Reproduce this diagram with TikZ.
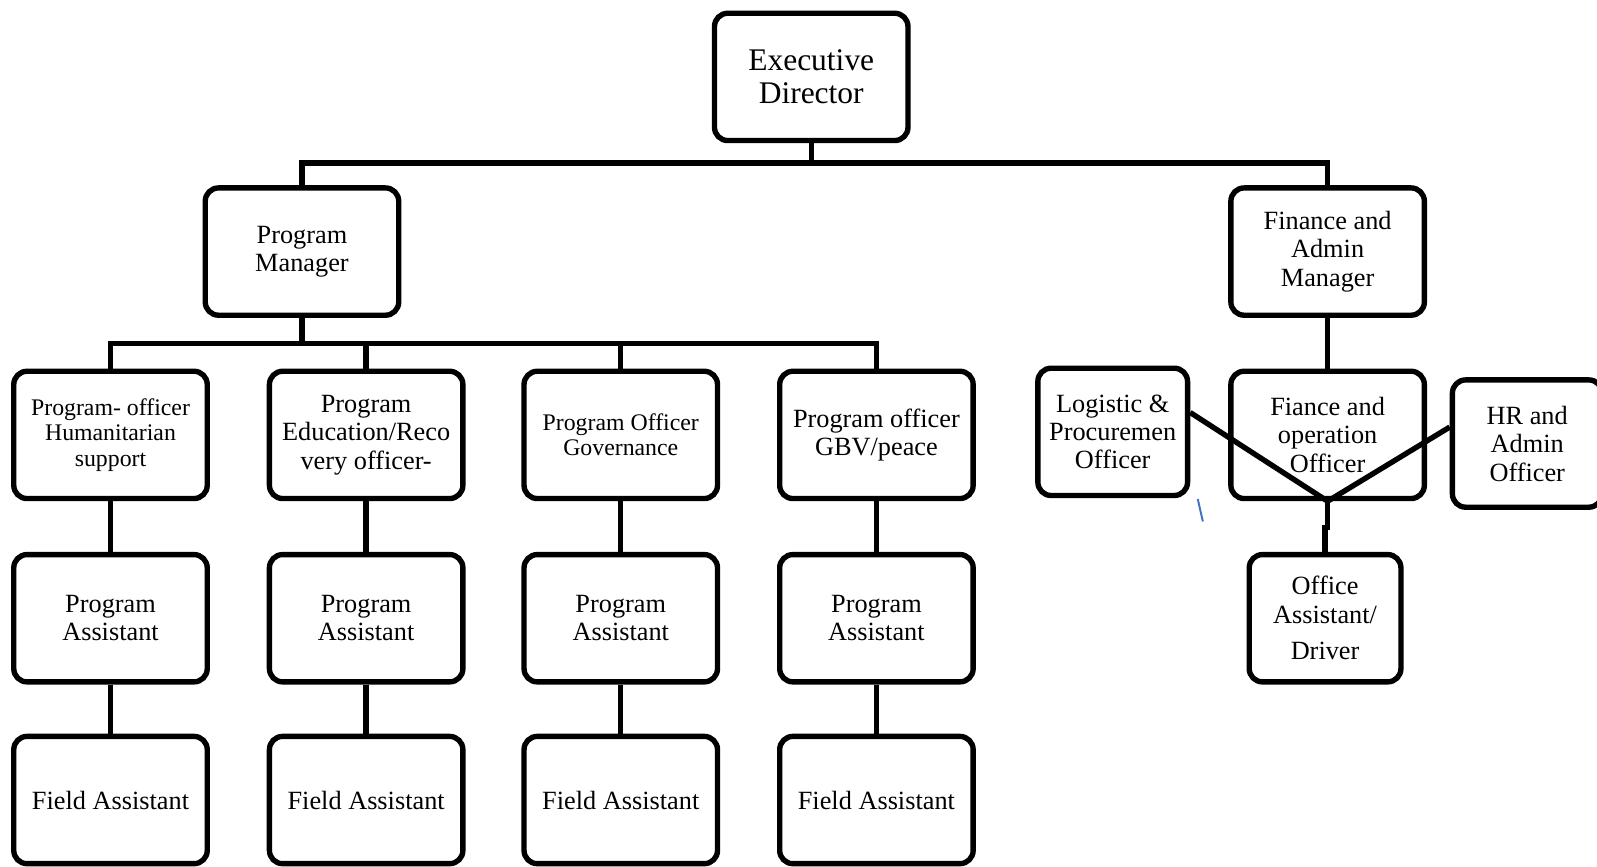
\documentclass[tikz,border=0pt]{standalone}
\usepackage{fontspec}
\setmainfont{Liberation Serif}
\definecolor{strayblue}{RGB}{68,114,196}

\begin{document}
\begin{tikzpicture}[x=0.02cm, y=-0.02cm,
    orgbox/.style={draw, line width=3pt, rounded corners=0.26cm, align=center,
        minimum width=3.8cm, minimum height=2.5cm, inner sep=0pt,
        font=\fontsize{14.7}{15.9}\selectfont},
    narrowbox/.style={orgbox, minimum width=2.94cm},
    smalltext/.style={font=\fontsize{13.3}{14.2}\selectfont},
    bigtext/.style={font=\fontsize{17.6}{18.2}\selectfont},
    link/.style={line width=3pt}]

    \useasboundingbox (0,0) rectangle (1568,851);

    % --------------------------
    % 顶层
    % --------------------------
    \node[orgbox, bigtext] (ed) at (796.5,75.5) {Executive\\Director};
    \node[orgbox] (pm) at (296.5,247) {Program\\Manager};
    \node[orgbox] (fam) at (1303.5,247) {Finance and\\Admin\\Manager};

    \coordinate (busA) at (796.5,160);
    \draw[link] (ed.south) -- (busA);
    \draw[link] (pm.north) |- (busA) -| (fam.north);

    % --------------------------
    % 项目部
    % --------------------------
    \node[orgbox, smalltext] (po1) at (108.5,427) {Program- officer\\Humanitarian\\support};
    \node[orgbox] (po2) at (359.5,427) {Program\\Education/Reco\\very officer-};
    \node[orgbox, smalltext] (po3) at (609.5,427) {Program Officer\\Governance};
    \node[orgbox] (po4) at (860.5,427) {Program officer\\GBV/peace};

    \coordinate (busB) at (296.5,337);
    \draw[link] (pm.south) -- (busB);
    \draw[link] (po1.north) |- (busB) -| (po4.north);
    \foreach \i in {2,3} {
        \draw[link] (po\i.north) -- (po\i.north |- busB);
    }

    % 助理与现场
    \foreach \i/\x in {1/108.5, 2/359.5, 3/609.5, 4/860.5} {
        \node[orgbox] (pa\i) at (\x,607) {Program\\Assistant};
        \node[orgbox] (fa\i) at (\x,785.5) {Field Assistant};
        \draw[link] (po\i.south) -- (pa\i.north);
        \draw[link] (pa\i.south) -- (fa\i.north);
    }

    % --------------------------
    % 财务与行政
    % --------------------------
    \node[orgbox] (fo) at (1303.5,427) {Fiance and\\operation\\Officer};
    \node[narrowbox] (lp) at (1092.5,424) {Logistic \&\\Procuremen\\Officer};
    \node[narrowbox] (hr) at (1499.5,435.5) {HR and\\Admin\\Officer};
    \node[narrowbox, minimum width=2.98cm] (oa) at (1301,607) {Office\\Assistant/\\[0.16cm]Driver};

    \draw[link] (fam.south) -- (fo.north);
    \draw[link] (lp.14) -- (fo.south) -- (hr.168);
    \draw[link] (fo.south) -- ++(0,26) -| (oa.north);

    % 多余的小蓝线
    \draw[strayblue, line width=1.1pt] (1176,490) -- (1181,512);

\end{tikzpicture}
\end{document}
